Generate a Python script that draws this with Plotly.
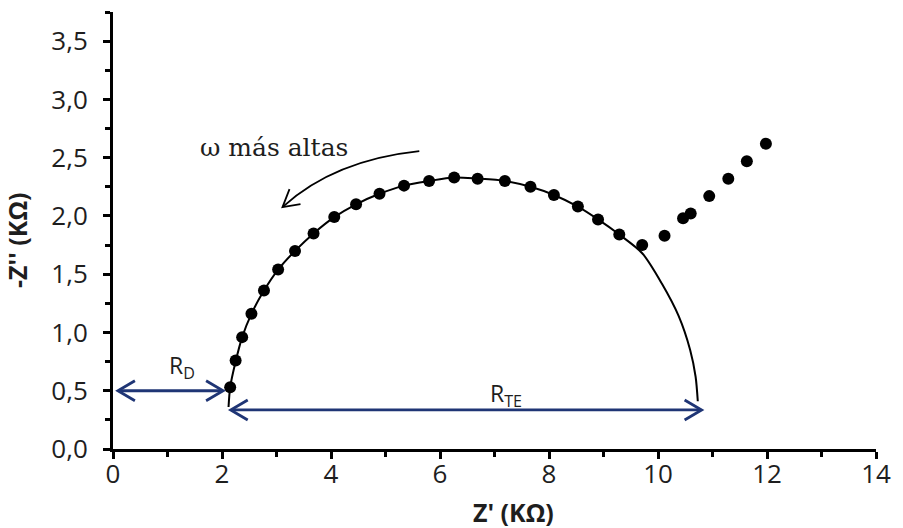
import plotly.graph_objects as go

# Impedance data (Nyquist plot), values in kOhm
z_re = [2.15, 2.25, 2.37, 2.54, 2.77, 3.03, 3.34, 3.68, 4.06, 4.46, 4.89, 5.34, 5.80,
        6.26, 6.69, 7.19, 7.66, 8.09, 8.53, 8.90, 9.29, 9.71, 10.12, 10.46, 10.60,
        10.94, 11.29, 11.63, 11.98]
z_im = [0.53, 0.76, 0.96, 1.16, 1.36, 1.54, 1.70, 1.85, 1.99, 2.10, 2.19, 2.26, 2.30,
        2.33, 2.32, 2.30, 2.25, 2.18, 2.08, 1.97, 1.84, 1.75, 1.83, 1.98, 2.02,
        2.17, 2.32, 2.47, 2.62]

# Fitted semicircle (equivalent-circuit fit)
fit_re = [2.12, 2.15, 2.25, 2.37, 2.54, 2.77, 3.03, 3.34, 3.68, 4.06, 4.46, 4.89, 5.34,
          5.80, 6.26, 6.69, 7.19, 7.66, 8.09, 8.53, 8.90, 9.29, 9.71, 10.07, 10.38,
          10.59, 10.69, 10.73]
fit_im = [0.36, 0.53, 0.75, 0.96, 1.16, 1.36, 1.54, 1.70, 1.85, 1.99, 2.10, 2.19, 2.26,
          2.30, 2.33, 2.32, 2.30, 2.25, 2.18, 2.08, 1.97, 1.84, 1.68, 1.42, 1.14,
          0.85, 0.62, 0.41]

# Resistance markers
r_d = (0.09, 2.02)      # R_D span on Z'
r_te = (2.16, 10.80)    # R_TE span on Z'
r_d_level = 0.50
r_te_level = 0.335

x_ticks = [0, 2, 4, 6, 8, 10, 12, 14]
y_ticks = [0.0, 0.5, 1.0, 1.5, 2.0, 2.5, 3.0, 3.5]

FONT = "Open Sans"
TXT = "#1e1e1e"
NAVY = "#1f3575"

fig = go.Figure()

fig.add_trace(go.Scatter(
    x=fit_re, y=fit_im, mode="lines",
    line=dict(color="black", width=2, shape="spline", smoothing=0.8),
    hoverinfo="skip", showlegend=False,
))
fig.add_trace(go.Scatter(
    x=z_re, y=z_im, mode="markers",
    marker=dict(color="black", size=12),
    showlegend=False,
))


def chevron(x, y, path, color, width):
    """Open arrow head drawn in pixels around an anchor point in data space."""
    return dict(type="path", xref="x", yref="y", xsizemode="pixel", ysizemode="pixel",
                xanchor=x, yanchor=y, path=path, line=dict(color=color, width=width))


shapes = []
# Double-headed resistance arrows
for (x0, x1), lvl in ((r_d, r_d_level), (r_te, r_te_level)):
    shapes.append(dict(type="line", xref="x", yref="y", x0=x0 + 0.03, x1=x1 - 0.03,
                       y0=lvl, y1=lvl, line=dict(color=NAVY, width=2.8)))
    shapes.append(chevron(x0, lvl, "M 17,10 L 0,0 L 17,-10", NAVY, 2.8))
    shapes.append(chevron(x1, lvl, "M -17,10 L 0,0 L -17,-10", NAVY, 2.8))

# Curved arrow pointing towards higher frequencies
shapes.append(dict(type="path", xref="x", yref="y",
                   path="M 5.62,2.556 Q 4.06,2.479 3.12,2.08",
                   line=dict(color="black", width=1.8)))
shapes.append(chevron(3.11, 2.075, "M 7,18 L 0,0 L 18,3", "black", 1.8))

annotations = [
    dict(x=1.26, y=0.71, xref="x", yref="y", showarrow=False,
         text="R<sub>D</sub>", font=dict(family=FONT, size=23, color=TXT)),
    dict(x=7.21, y=0.47, xref="x", yref="y", showarrow=False,
         text="R<sub>TE</sub>", font=dict(family=FONT, size=23, color=TXT)),
    dict(x=2.95, y=2.59, xref="x", yref="y", showarrow=False, text="ω más altas",
         font=dict(family="DejaVu Serif", size=25, color=TXT)),
    # Axis titles
    dict(x=(515 - 113) / 765, y=-0.144, xref="paper", yref="paper",
         showarrow=False, text="<b>Z' (KΩ)</b>", yanchor="middle",
         font=dict(family=FONT, size=25, color=TXT)),
    dict(x=-0.126, y=0.478, xref="paper", yref="paper", textangle=-90,
         showarrow=False, text="<b>-Z'' (KΩ)</b>", xanchor="center",
         yanchor="middle", font=dict(family=FONT, size=25, color=TXT)),
]

axis_common = dict(
    showgrid=False, zeroline=False, showline=True, linecolor="black", linewidth=3,
    ticks="outside", ticklen=7, tickwidth=2.5, tickcolor="black",
    tickfont=dict(family=FONT, size=26, color=TXT),
)

fig.update_layout(
    width=903, height=528,
    margin=dict(l=113, r=25, t=12, b=79),
    paper_bgcolor="white", plot_bgcolor="white",
    separators=",.",
    xaxis=dict(range=[0, 14], tickvals=x_ticks, tickformat="d", ticklabelstandoff=-7,
               minor=dict(dtick=1, tick0=0, ticks="outside", ticklen=5, tickwidth=2.5,
                          tickcolor="black"),
               **axis_common),
    yaxis=dict(range=[0, 3.75], tickvals=y_ticks, tickformat=".1f", ticklabelstandoff=10,
               minor=dict(dtick=0.25, tick0=0, ticks="outside", ticklen=5, tickwidth=2.5,
                          tickcolor="black"),
               **axis_common),
    annotations=annotations,
    shapes=shapes,
    showlegend=False,
)

fig.write_html("out.html")
